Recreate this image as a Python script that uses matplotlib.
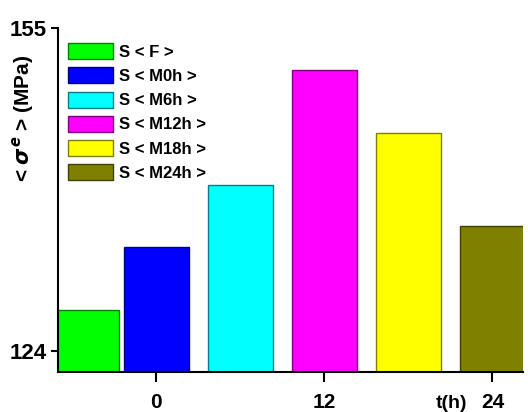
import matplotlib.pyplot as plt
from matplotlib.patches import Patch

# data
labels = ["S < F >", "S < M0h >", "S < M6h >", "S < M12h >", "S < M18h >", "S < M24h >"]
times_h = [-5, 0, 6, 12, 18, 24]
stress = [128, 134, 140, 151, 145, 136]
fill = ["#00ff00", "#0000ff", "#00ffff", "#ff00ff", "#ffff00", "#808000"]
edge = ["#008000", "#000080", "#008080", "#800080", "#808000", "#404000"]
xticks = [0, 12, 24]
yticks = [124, 155]

plt.rcParams['font.family'] = ['Liberation Sans', 'DejaVu Sans']
plt.rcParams['font.weight'] = 'bold'

fig = plt.figure(figsize=(5.28, 4.12), dpi=100)
ax = fig.add_axes([0.109, 0.097, 0.882, 0.834])

ax.bar(times_h, stress, width=4.64, color=fill, edgecolor=edge, linewidth=1.0)
ax.set_xlim(-7.04, 26.2)
ax.set_ylim(122, 155)
ax.set_xticks(xticks)
ax.set_yticks(yticks)
ax.tick_params(axis='x', length=7, width=1.5, pad=8, labelsize=15)
ax.tick_params(axis='y', length=5, width=1.5, pad=3, labelsize=16)
for t in ax.get_xticklabels() + ax.get_yticklabels():
    t.set_fontweight('bold')

for s in ['top', 'right']:
    ax.spines[s].set_visible(False)
for s in ['left', 'bottom']:
    ax.spines[s].set_linewidth(1.5)

handles = [Patch(facecolor=f, edgecolor=e, linewidth=1.0) for f, e in zip(fill, edge)]
ax.legend(handles, labels, loc='upper left', bbox_to_anchor=(0.022, 0.957),
          frameon=False, borderpad=0, borderaxespad=0,
          handlelength=2.7, handleheight=1.1, labelspacing=0.45, handletextpad=0.35,
          prop={'weight': 'bold', 'size': 12})

fig.text(23 / 528, 0.714, r"< $\sigma^{e}$ > (MPa)", rotation=90, ha='center', va='center',
         fontsize=15, fontweight='bold')
fig.text(452 / 528, 0.02, "t(h)", ha='center', va='center', fontsize=14, fontweight='bold')

fig.savefig("out.png", dpi=100)
